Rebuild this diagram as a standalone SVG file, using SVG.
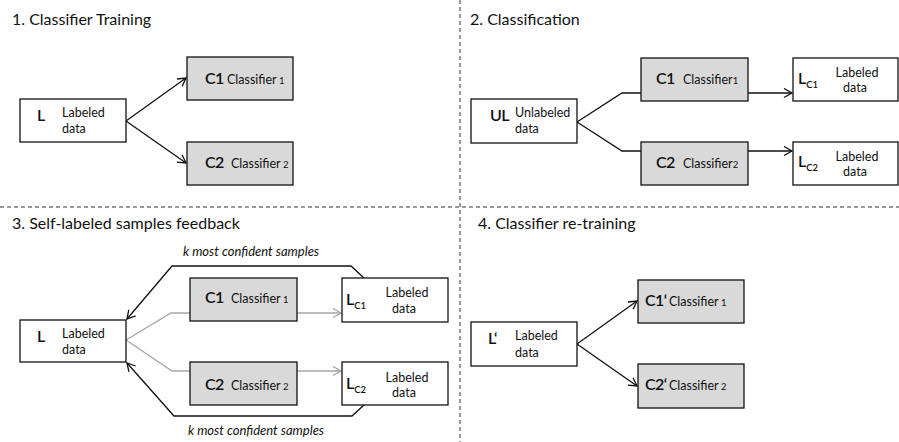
<svg xmlns="http://www.w3.org/2000/svg" width="899" height="442" viewBox="0 0 899 442">
  <style>
    text { font-family: Lato, "Open Sans", "Liberation Sans", sans-serif; fill: #111; }
    .title { font-size: 16px; }
    .big { font-size: 16px; font-weight: 600; letter-spacing: -0.6px; }
    .sub { font-size: 9.5px; font-weight: 600; letter-spacing: 0; }
    .lbl { font-size: 12.5px; }
    .idx { font-size: 9.5px; }
    .note { font-size: 13px; font-style: italic; }
    .box { fill: #ffffff; stroke: #111; stroke-width: 1.3; }
    .cls { fill: #d9d9d9; stroke: #111; stroke-width: 1.3; }
    .edge { fill: none; stroke: #111; stroke-width: 1.3; }
    .grey { fill: none; stroke: #a6a6a6; stroke-width: 1.3; }
    .sep { fill: none; stroke: #333; stroke-width: 1; stroke-dasharray: 4 3; }
  </style>
  <defs>
    <marker id="arr" markerUnits="userSpaceOnUse" markerWidth="12" markerHeight="12" refX="9" refY="5" orient="auto">
      <path d="M1,0.5 L9,5 L1,9.5" fill="none" stroke="#111" stroke-width="1.3"/>
    </marker>
    <marker id="arrGrey" markerUnits="userSpaceOnUse" markerWidth="12" markerHeight="12" refX="9" refY="5" orient="auto">
      <path d="M1,0.5 L9,5 L1,9.5" fill="none" stroke="#a6a6a6" stroke-width="1.3"/>
    </marker>
  </defs>

  <rect width="899" height="442" fill="#ffffff"/>

  <!-- quadrant separators -->
  <g id="separators">
    <line class="sep" x1="0" y1="207" x2="899" y2="207"/>
    <line class="sep" x1="460" y1="0" x2="460" y2="442"/>
  </g>

  <!-- section titles -->
  <g id="titles">
    <text class="title" x="12" y="25">1. Classifier Training</text>
    <text class="title" x="470" y="25">2. Classification</text>
    <text class="title" x="12" y="229">3. Self-labeled samples feedback</text>
    <text class="title" x="478" y="229">4. Classifier re-training</text>
  </g>

  <!-- connectors -->
  <g id="connectors">
    <!-- 1 -->
    <line class="edge" x1="126" y1="121" x2="186" y2="78" marker-end="url(#arr)"/>
    <line class="edge" x1="126" y1="121" x2="186" y2="163" marker-end="url(#arr)"/>
    <!-- 2 -->
    <polyline class="edge" points="577,122 622,93 792,93" marker-end="url(#arr)"/>
    <polyline class="edge" points="577,122 622,151 792,151" marker-end="url(#arr)"/>
    <!-- 3 -->
    <polyline class="grey" points="126,340 171,313 341,313" marker-end="url(#arrGrey)"/>
    <polyline class="grey" points="126,340 172,371 341,371" marker-end="url(#arrGrey)"/>
    <polyline class="edge" points="364,278 351,266 172,266 127,319" marker-end="url(#arr)"/>
    <polyline class="edge" points="364,405 352,416 174,416 127,363" marker-end="url(#arr)"/>
    <!-- 4 -->
    <line class="edge" x1="577" y1="344" x2="637" y2="301" marker-end="url(#arr)"/>
    <line class="edge" x1="577" y1="344" x2="637" y2="386" marker-end="url(#arr)"/>
  </g>

  <!-- connector labels -->
  <g id="edge-labels">
    <text class="note" x="251" y="256" text-anchor="middle">k most confident samples</text>
    <text class="note" x="256" y="435" text-anchor="middle">k most confident samples</text>
  </g>

  <!-- 1. Classifier Training -->
  <g id="n1-L">
    <rect class="box" x="20" y="99" width="106" height="43"/>
    <text class="big" x="37" y="121">L</text>
    <text class="lbl" x="62" y="117">Labeled</text>
    <text class="lbl" x="62" y="133">data</text>
  </g>
  <g id="n1-C1">
    <rect class="cls" x="187" y="57" width="106" height="43"/>
    <text class="big" x="205" y="84">C1</text>
    <text class="lbl" x="227" y="84">Classifier<tspan class="idx"> 1</tspan></text>
  </g>
  <g id="n1-C2">
    <rect class="cls" x="187" y="142" width="106" height="43"/>
    <text class="big" x="205" y="168">C2</text>
    <text class="lbl" x="231" y="168">Classifier<tspan class="idx"> 2</tspan></text>
  </g>

  <!-- 2. Classification -->
  <g id="n2-UL">
    <rect class="box" x="471" y="99" width="106" height="44"/>
    <text class="big" x="490" y="121">UL</text>
    <text class="lbl" x="515" y="117">Unlabeled</text>
    <text class="lbl" x="515" y="133">data</text>
  </g>
  <g id="n2-C1">
    <rect class="cls" x="641" y="58" width="107" height="43"/>
    <text class="big" x="656" y="84">C1</text>
    <text class="lbl" x="683" y="84">Classifier<tspan class="idx">1</tspan></text>
  </g>
  <g id="n2-C2">
    <rect class="cls" x="641" y="142" width="107" height="43"/>
    <text class="big" x="656" y="168">C2</text>
    <text class="lbl" x="683" y="168">Classifier<tspan class="idx">2</tspan></text>
  </g>
  <g id="n2-LC1">
    <rect class="box" x="793" y="58" width="105" height="43"/>
    <text class="big" x="798" y="84">L<tspan class="sub" dx="0.6" dy="4">C1</tspan></text>
    <text class="lbl" x="857" y="77" text-anchor="middle">Labeled</text>
    <text class="lbl" x="855" y="92" text-anchor="middle">data</text>
  </g>
  <g id="n2-LC2">
    <rect class="box" x="793" y="142" width="105" height="43"/>
    <text class="big" x="798" y="167">L<tspan class="sub" dx="0.6" dy="4">C2</tspan></text>
    <text class="lbl" x="857" y="161" text-anchor="middle">Labeled</text>
    <text class="lbl" x="855" y="176" text-anchor="middle">data</text>
  </g>

  <!-- 3. Self-labeled samples feedback -->
  <g id="n3-L">
    <rect class="box" x="20" y="320" width="106" height="42"/>
    <text class="big" x="37" y="342">L</text>
    <text class="lbl" x="62" y="338">Labeled</text>
    <text class="lbl" x="62" y="354">data</text>
  </g>
  <g id="n3-C1">
    <rect class="cls" x="190" y="278" width="107" height="43"/>
    <text class="big" x="205" y="303">C1</text>
    <text class="lbl" x="231" y="303">Classifier<tspan class="idx"> 1</tspan></text>
  </g>
  <g id="n3-C2">
    <rect class="cls" x="190" y="362" width="107" height="43"/>
    <text class="big" x="205" y="390">C2</text>
    <text class="lbl" x="231" y="390">Classifier<tspan class="idx"> 2</tspan></text>
  </g>
  <g id="n3-LC1">
    <rect class="box" x="342" y="278" width="106" height="44"/>
    <text class="big" x="346" y="305">L<tspan class="sub" dx="0.6" dy="4">C1</tspan></text>
    <text class="lbl" x="407" y="297" text-anchor="middle">Labeled</text>
    <text class="lbl" x="404" y="313" text-anchor="middle">data</text>
  </g>
  <g id="n3-LC2">
    <rect class="box" x="342" y="362" width="106" height="43"/>
    <text class="big" x="346" y="389">L<tspan class="sub" dx="0.6" dy="4">C2</tspan></text>
    <text class="lbl" x="407" y="382" text-anchor="middle">Labeled</text>
    <text class="lbl" x="404" y="397" text-anchor="middle">data</text>
  </g>

  <!-- 4. Classifier re-training -->
  <g id="n4-L">
    <rect class="box" x="471" y="322" width="106" height="44"/>
    <text class="big" x="488" y="344">L‘</text>
    <text class="lbl" x="515" y="340">Labeled</text>
    <text class="lbl" x="515" y="357">data</text>
  </g>
  <g id="n4-C1">
    <rect class="cls" x="638" y="280" width="106" height="43"/>
    <text class="big" x="645" y="306">C1‘</text>
    <text class="lbl" x="669" y="306">Classifier<tspan class="idx"> 1</tspan></text>
  </g>
  <g id="n4-C2">
    <rect class="cls" x="638" y="364" width="106" height="44"/>
    <text class="big" x="645" y="390">C2‘</text>
    <text class="lbl" x="669" y="390">Classifier<tspan class="idx"> 2</tspan></text>
  </g>
</svg>
